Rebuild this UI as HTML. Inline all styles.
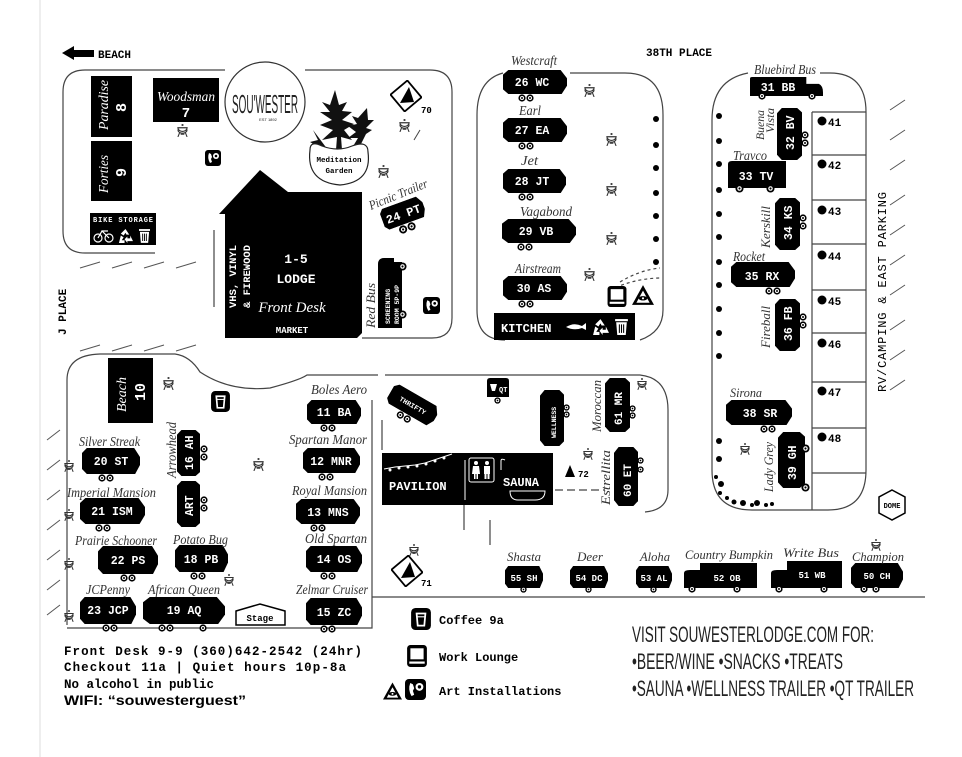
<!DOCTYPE html>
<html><head><meta charset="utf-8"><style>
html,body{margin:0;padding:0;background:#fff}
svg{display:block}
.m{font-family:"Liberation Mono",monospace;font-weight:bold}
.s{font-family:"Liberation Serif",serif;font-style:italic;fill:#333}
</style></head><body>
<svg width="962" height="757" viewBox="0 0 962 757" xmlns="http://www.w3.org/2000/svg">
<defs>
<symbol id="tr" viewBox="0 0 60 26" preserveAspectRatio="none"><polygon points="0,5 5,0 54,0 60,9 60,17 55,26 5,26 0,21" fill="#000"/></symbol>
<symbol id="tv" viewBox="0 0 26 60" preserveAspectRatio="none"><polygon points="5,0 21,0 26,5 26,55 21,60 5,60 0,54 0,6" fill="#000"/></symbol>
<symbol id="bus" viewBox="0 0 70 22" preserveAspectRatio="none"><path d="M0,2 Q0,0 2,0 H54 V8 H66 Q70,10 70,18 V22 H0 Z" fill="#000"/></symbol>
<symbol id="wh" viewBox="0 0 10 10"><circle cx="5" cy="5" r="4.5" fill="#000"/><circle cx="5" cy="5" r="2.5" fill="#fff"/><circle cx="5" cy="5" r="1.2" fill="#000"/></symbol>
<symbol id="bbq" viewBox="0 0 12 14"><rect x="5" y="0" width="2" height="2" fill="#333"/><path d="M1,4 H11 A5,4 0 0 1 1,4 Z" fill="none" stroke="#333" stroke-width="1.3"/><path d="M1,6 A5,4 0 0 0 11,6" fill="none" stroke="#333" stroke-width="1.3"/><path d="M3,9 L1,14 M9,9 L11,14 M4,11 H8" stroke="#333" stroke-width="1.2"/></symbol>
<symbol id="ph" viewBox="0 0 16 16"><rect width="16" height="16" rx="3" fill="#000"/><path d="M4,3 Q2,8 5,13 L7,12 L6,9 L7,7 L6,4 Z" fill="#fff"/><circle cx="11" cy="6" r="3" fill="#fff"/><circle cx="11" cy="6" r="1.3" fill="#000"/></symbol>
<symbol id="cup" viewBox="0 0 18 20"><rect width="18" height="20" rx="4" fill="#000"/><path d="M5,5 H13 L12,16 H6 Z" fill="none" stroke="#fff" stroke-width="1.6"/><line x1="5" y1="8" x2="13" y2="8" stroke="#fff"/></symbol>
<symbol id="pc" viewBox="0 0 18 20"><rect width="18" height="20" rx="3" fill="#000"/><rect x="3" y="3" width="12" height="10" fill="#fff"/><rect x="2" y="15" width="14" height="2" fill="#fff"/></symbol>
<symbol id="eye" viewBox="0 0 20 18"><polygon points="10,0 20,18 0,18" fill="#000"/><polygon points="10,5 16,16 4,16" fill="#fff"/><ellipse cx="10" cy="12" rx="4" ry="2" fill="#000"/><circle cx="10" cy="12" r="1" fill="#fff"/></symbol>
<symbol id="recy" viewBox="0 0 16 16"><path d="M8,1 L12,7 L9,7 L8,5 L6,8 L3,6 Z M13,8 L16,14 L10,14 L10,16 L7,12 L10,9 L10,11 L13,11 Z M3,8 L6,10 L4,13 L7,13 L7,16 L1,16 Z" fill="#fff"/></symbol>
<symbol id="trash" viewBox="0 0 12 16"><rect x="0" y="1" width="12" height="2" fill="#fff"/><path d="M1,4 H11 L10,16 H2 Z" fill="#fff"/><path d="M4,6 V14 M6,6 V14 M8,6 V14" stroke="#000"/></symbol>
<symbol id="tent" viewBox="-16 -16 32 32"><g transform="rotate(-40)"><rect x="-11" y="-11" width="22" height="22" fill="#fff" stroke="#000" stroke-width="1.8"/></g><polygon points="-6,7 3,-9 8,6" fill="#000"/></symbol>
</defs>

<line x1="40" y1="0" x2="40" y2="757" stroke="#ddd"/>

<polygon points="62,53 74,46 74,50 94,50 94,57 74,57 74,60" fill="#000"/>
<text x="98" y="58" class="m" font-size="11">BEACH</text>
<text x="646" y="56" class="m" font-size="11" font-weight="normal">38TH PLACE</text>
<text transform="translate(66,335) rotate(-90)" class="m" font-size="11" font-weight="normal">J PLACE</text>
<text transform="translate(886,392) rotate(-90)" font-family="Liberation Mono,monospace" font-size="12" textLength="200">RV/CAMPING &amp; EAST PARKING</text>
<g stroke="#555" stroke-width="1">
<path d="M80,268 L100,262 M112,268 L132,262 M144,268 L164,262 M176,268 L196,262 M80,351 L100,345 M112,351 L132,345 M144,351 L164,345 M176,351 L196,345"/>
<path d="M47,440 L60,430 M47,470 L60,460 M47,500 L60,490 M47,530 L60,520 M47,560 L60,550 M47,590 L60,580 M47,615 L60,605"/>
<path d="M890,110 L905,100 M890,140 L905,130 M890,170 L905,160 M890,205 L905,195 M890,235 L905,225 M890,265 L905,255 M890,295 L905,285 M890,330 L905,320 M890,360 L905,350 M890,390 L905,380"/>
</g>

<g fill="none" stroke="#444" stroke-width="1.2">
<path d="M155,253 H85 Q63,253 63,231 V92 Q63,70 85,70 H225 M305,70 H430 Q452,70 452,92 V318 Q452,338 432,338 H362"/>
<path d="M214,230 V307"/>
<path d="M503,73 Q477,80 477,115 V310 Q477,340 505,340 M570,73 H625 Q663,73 663,115 V310 Q663,332 640,340"/>
<path d="M748,73 Q712,80 712,120 V470 Q712,510 752,510 H828 Q866,510 866,470 V112 Q866,73 830,73 H820"/>
<path d="M812,112 V510 M812,112 H866 M812,155 H866 M812,200 H866 M812,244 H866 M812,290 H866 M812,333 H866 M812,382 H866 M812,428 H866 M812,473 H866"/>
<path d="M67,625 V380 Q67,355 100,354 H175 Q190,356 200,372 Q230,392 270,388 Q300,380 307,375 H378 M372,400 V628 H67"/>
<path d="M385,375 H640 Q668,378 668,410 V490 Q668,510 645,512"/>
<path d="M372,597 H925"/>
<path d="M382,420 V450 M464,505 V530 M490,520 V545"/>
<path d="M555,490 H605" stroke-dasharray="8 4"/>
<path d="M620,282 Q640,270 660,268 M610,290 Q635,278 662,278" stroke-dasharray="3 3"/>
</g>

<rect x="91" y="76" width="41" height="61" fill="#000"/>
<text transform="translate(108,130) rotate(-90)" class="s" font-size="14" style="fill:#fff" textLength="50" lengthAdjust="spacingAndGlyphs">Paradise</text>
<text transform="translate(126,112) rotate(-90)" class="m" font-size="15" fill="#fff">8</text>
<rect x="91" y="141" width="41" height="60" fill="#000"/>
<text transform="translate(108,193) rotate(-90)" class="s" font-size="14" style="fill:#fff" textLength="38" lengthAdjust="spacingAndGlyphs">Forties</text>
<text transform="translate(126,177) rotate(-90)" class="m" font-size="15" fill="#fff">9</text>
<rect x="90" y="213" width="66" height="32" fill="#000"/>
<text x="93" y="222" class="m" font-size="7" fill="#fff" textLength="60">BIKE STORAGE</text>
<g stroke="#fff" fill="none" stroke-width="1.2"><circle cx="98" cy="238" r="4"/><circle cx="109" cy="238" r="4"/><path d="M98,238 L102,231 L109,238 M102,231 H108"/></g>
<use href="#recy" x="118" y="228" width="15" height="15"/>
<use href="#trash" x="139" y="228" width="11" height="15"/>
<rect x="153" y="78" width="66" height="44" fill="#000"/>
<text x="186" y="101" class="s" font-size="14" style="fill:#fff" text-anchor="middle" textLength="58" lengthAdjust="spacingAndGlyphs">Woodsman</text>
<text x="186" y="117" class="m" font-size="14" fill="#fff" text-anchor="middle">7</text>
<circle cx="265" cy="102" r="40" fill="#fff" stroke="#333" stroke-width="1.2"/>
<text x="265" y="113" font-family="Liberation Sans,sans-serif" font-size="26" text-anchor="middle" textLength="66" lengthAdjust="spacingAndGlyphs" fill="#222">SOU'WESTER</text>
<text x="268" y="121" font-size="4" font-family="Liberation Sans,sans-serif" fill="#222" text-anchor="middle">EST 1892</text>
<use href="#bbq" x="177" y="124" width="11" height="13"/>
<use href="#ph" x="205" y="150" width="16" height="16"/>
<g fill="#111">
<path d="M335,90 L330,105 L322,102 L330,112 L320,112 L332,120 L320,125 L333,130 L322,140 L337,137 L336,150 L342,150 L341,137 L352,140 L344,130 L354,124 L342,120 L352,112 L342,111 L347,102 L339,105 Z"/>
<path d="M367,108 L358,118 L352,116 L357,124 L348,126 L356,132 L348,138 L358,138 L352,148 L360,146 L366,134 L372,130 L366,128 L374,120 L368,120 Z"/>
<path d="M313,130 L318,140 L310,142 L320,148 L328,150 Z"/>
</g>
<path d="M310,150 Q310,140 322,146 Q338,152 352,146 Q368,140 368,152 Q372,182 340,185 Q306,182 310,150 Z" fill="#fff" stroke="#222" stroke-width="1.2"/>
<text x="339" y="162" class="m" font-size="7.5" text-anchor="middle">Meditation</text>
<text x="339" y="173" class="m" font-size="7.5" text-anchor="middle">Garden</text>
<use href="#tent" x="390" y="80" width="32" height="32"/>
<text x="421" y="113" class="m" font-size="9">70</text>
<use href="#bbq" x="399" y="119" width="11" height="13"/>
<use href="#bbq" x="378" y="165" width="11" height="13"/>
<path d="M414,140 L420,130" stroke="#444"/>
<polygon points="219,214 260,170 288,192 362,192 362,333 357,338 225,338 225,214" fill="#000"/>
<text transform="translate(236,308) rotate(-90)" class="m" font-size="10.5" fill="#fff">VHS, VINYL</text>
<text transform="translate(250,308) rotate(-90)" class="m" font-size="10.5" fill="#fff">&amp; FIREWOOD</text>
<text x="296" y="263" class="m" font-size="13" fill="#fff" text-anchor="middle">1-5</text>
<text x="296" y="283" class="m" font-size="13" fill="#fff" text-anchor="middle">LODGE</text>
<text x="292" y="312" class="s" font-size="15" style="fill:#fff" text-anchor="middle">Front Desk</text>
<text x="292" y="333" class="m" font-size="9" fill="#fff" text-anchor="middle">MARKET</text>
<path d="M378,328 V264 Q378,258 384,258 H394 V262 H402 V328 Z" fill="#000"/>
<text transform="translate(390,324) rotate(-90)" class="m" font-size="6.5" fill="#fff">SCREENING</text>
<text transform="translate(399,324) rotate(-90)" class="m" font-size="6.5" fill="#fff">ROOM 5P-9P</text>
<use href="#wh" x="398" y="262" width="9" height="9"/><use href="#wh" x="398" y="310" width="9" height="9"/>
<text transform="translate(375,328) rotate(-90)" class="s" font-size="13" textLength="45" lengthAdjust="spacingAndGlyphs">Red Bus</text>
<use href="#ph" x="423" y="297" width="17" height="17"/>
<g transform="translate(403,213) rotate(-20)"><use href="#tr" x="-22" y="-11" width="44" height="22"/><text x="0" y="5" class="m" font-size="12" fill="#fff" text-anchor="middle">24 PT</text><use href="#wh" x="-10" y="11" width="9" height="9"/><use href="#wh" x="-1" y="11" width="9" height="9"/></g>
<text transform="translate(371,210) rotate(-22)" class="s" font-size="13" textLength="62" lengthAdjust="spacingAndGlyphs">Picnic Trailer</text>

<g class="m" font-size="11.5" fill="#fff">
<use href="#tr" x="503" y="70" width="64" height="24"/><text x="532" y="86" text-anchor="middle">26 WC</text>
<use href="#tr" x="503" y="118" width="64" height="24"/><text x="532" y="134" text-anchor="middle">27 EA</text>
<use href="#tr" x="503" y="169" width="63" height="24"/><text x="532" y="185" text-anchor="middle">28 JT</text>
<use href="#tr" x="502" y="219" width="74" height="24"/><text x="536" y="235" text-anchor="middle">29 VB</text>
<use href="#tr" x="503" y="276" width="64" height="24"/><text x="534" y="292" text-anchor="middle">30 AS</text>
</g>
<use href="#wh" x="518" y="94" width="8" height="8"/><use href="#wh" x="526" y="94" width="8" height="8"/>
<use href="#wh" x="518" y="142" width="8" height="8"/><use href="#wh" x="526" y="142" width="8" height="8"/>
<use href="#wh" x="518" y="193" width="8" height="8"/><use href="#wh" x="526" y="193" width="8" height="8"/>
<use href="#wh" x="517" y="243" width="8" height="8"/><use href="#wh" x="525" y="243" width="8" height="8"/>
<use href="#wh" x="518" y="300" width="8" height="8"/><use href="#wh" x="526" y="300" width="8" height="8"/>
<g class="s" font-size="14" lengthAdjust="spacingAndGlyphs">
<text x="511" y="65" textLength="46" lengthAdjust="spacingAndGlyphs">Westcraft</text><text x="519" y="115" textLength="22" lengthAdjust="spacingAndGlyphs">Earl</text><text x="521" y="165" textLength="17" lengthAdjust="spacingAndGlyphs">Jet</text><text x="520" y="216" textLength="52" lengthAdjust="spacingAndGlyphs">Vagabond</text><text x="515" y="273" textLength="46" lengthAdjust="spacingAndGlyphs">Airstream</text>
</g>
<g fill="#000"><circle cx="656" cy="119" r="3"/><circle cx="656" cy="145" r="3"/><circle cx="656" cy="168" r="3"/><circle cx="656" cy="193" r="3"/><circle cx="656" cy="216" r="3"/><circle cx="656" cy="239" r="3"/><circle cx="656" cy="262" r="3"/></g>
<use href="#bbq" x="584" y="84" width="11" height="13"/><use href="#bbq" x="606" y="133" width="11" height="13"/><use href="#bbq" x="606" y="183" width="11" height="13"/><use href="#bbq" x="606" y="232" width="11" height="13"/><use href="#bbq" x="584" y="268" width="11" height="13"/>
<use href="#pc" x="607" y="286" width="20" height="21"/><use href="#eye" x="632" y="283" width="22" height="24"/>
<rect x="494" y="313" width="141" height="27" fill="#000"/>
<text x="501" y="332" class="m" font-size="12" fill="#fff">KITCHEN</text>
<path d="M566,327 Q574,322 582,326 L586,323 L586,330 L582,328 Q574,331 566,327 Z" fill="#fff"/>
<use href="#recy" x="592" y="318" width="17" height="17"/><use href="#trash" x="615" y="318" width="13" height="17"/>

<use href="#bus" x="750" y="77" width="73" height="19"/>
<text x="778" y="91" class="m" font-size="11.5" fill="#fff" text-anchor="middle">31 BB</text>
<use href="#wh" x="758" y="92" width="8" height="8"/><use href="#wh" x="808" y="92" width="8" height="8"/>
<text x="754" y="74" class="s" font-size="14" textLength="62" lengthAdjust="spacingAndGlyphs">Bluebird Bus</text>
<use href="#tv" x="777" y="108" width="25" height="52"/><text transform="translate(794,150) rotate(-90)" class="m" font-size="11.5" fill="#fff">32 BV</text>
<use href="#wh" x="801" y="131" width="8" height="8"/><use href="#wh" x="801" y="139" width="8" height="8"/>
<text transform="translate(764,140) rotate(-90)" class="s" font-size="12" textLength="30" lengthAdjust="spacingAndGlyphs">Buena</text><text transform="translate(774,133) rotate(-90)" class="s" font-size="12" textLength="25" lengthAdjust="spacingAndGlyphs">Vista</text>
<path d="M728,164 Q728,161 732,161 H786 V188 H728 Z" fill="#000"/>
<text x="756" y="180" class="m" font-size="11.5" fill="#fff" text-anchor="middle">33 TV</text>
<use href="#wh" x="735" y="184" width="9" height="9"/><use href="#wh" x="766" y="184" width="9" height="9"/>
<text x="733" y="160" class="s" font-size="14" textLength="34" lengthAdjust="spacingAndGlyphs">Travco</text>
<use href="#tv" x="775" y="198" width="25" height="52"/><text transform="translate(792,240) rotate(-90)" class="m" font-size="11.5" fill="#fff">34 KS</text>
<use href="#wh" x="799" y="214" width="8" height="8"/><use href="#wh" x="799" y="222" width="8" height="8"/>
<text transform="translate(770,248) rotate(-90)" class="s" font-size="13" textLength="42" lengthAdjust="spacingAndGlyphs">Kerskill</text>
<use href="#tr" x="731" y="262" width="64" height="25"/><text x="762" y="280" class="m" font-size="11.5" fill="#fff" text-anchor="middle">35 RX</text>
<use href="#wh" x="765" y="287" width="8" height="8"/><use href="#wh" x="773" y="287" width="8" height="8"/>
<text x="733" y="261" class="s" font-size="14" textLength="32" lengthAdjust="spacingAndGlyphs">Rocket</text>
<use href="#tv" x="775" y="299" width="25" height="52"/><text transform="translate(792,341) rotate(-90)" class="m" font-size="11.5" fill="#fff">36 FB</text>
<use href="#wh" x="799" y="313" width="8" height="8"/><use href="#wh" x="799" y="321" width="8" height="8"/>
<text transform="translate(770,348) rotate(-90)" class="s" font-size="13" textLength="42" lengthAdjust="spacingAndGlyphs">Fireball</text>
<use href="#tr" x="726" y="400" width="66" height="25"/><text x="760" y="417" class="m" font-size="11.5" fill="#fff" text-anchor="middle">38 SR</text>
<use href="#wh" x="760" y="425" width="8" height="8"/><use href="#wh" x="768" y="425" width="8" height="8"/>
<text x="730" y="397" class="s" font-size="13" textLength="32" lengthAdjust="spacingAndGlyphs">Sirona</text>
<use href="#tv" x="778" y="432" width="27" height="56"/><text transform="translate(796,480) rotate(-90)" class="m" font-size="11.5" fill="#fff">39 GH</text>
<use href="#wh" x="801" y="444" width="9" height="9"/><use href="#wh" x="801" y="483" width="9" height="9"/>
<text transform="translate(773,492) rotate(-90)" class="s" font-size="13" textLength="50" lengthAdjust="spacingAndGlyphs">Lady Grey</text>
<use href="#bbq" x="740" y="443" width="10" height="12"/>
<g fill="#000"><circle cx="719" cy="116" r="3"/><circle cx="719" cy="141" r="3"/><circle cx="719" cy="164" r="3"/><circle cx="719" cy="190" r="3"/><circle cx="719" cy="214" r="3"/><circle cx="719" cy="237" r="3"/><circle cx="719" cy="262" r="3"/><circle cx="719" cy="285" r="3"/><circle cx="719" cy="309" r="3"/><circle cx="719" cy="333" r="3"/><circle cx="719" cy="356" r="3"/><circle cx="719" cy="441" r="3"/><circle cx="719" cy="459" r="3"/><circle cx="716" cy="477" r="2"/><circle cx="721" cy="484" r="3"/><circle cx="720" cy="493" r="2"/><circle cx="727" cy="498" r="2"/><circle cx="734" cy="502" r="2.5"/><circle cx="743" cy="503" r="3"/><circle cx="752" cy="505" r="2"/><circle cx="757" cy="503" r="3"/><circle cx="766" cy="505" r="2"/><circle cx="772" cy="504" r="2"/></g>
<g class="m" font-size="11">
<circle cx="822" cy="121" r="4.5"/><text x="828" y="126">41</text>
<circle cx="822" cy="164" r="4.5"/><text x="828" y="169">42</text>
<circle cx="822" cy="210" r="4.5"/><text x="828" y="215">43</text>
<circle cx="822" cy="255" r="4.5"/><text x="828" y="260">44</text>
<circle cx="822" cy="300" r="4.5"/><text x="828" y="305">45</text>
<circle cx="822" cy="343" r="4.5"/><text x="828" y="348">46</text>
<circle cx="822" cy="391" r="4.5"/><text x="828" y="396">47</text>
<circle cx="822" cy="437" r="4.5"/><text x="828" y="442">48</text>
</g>
<polygon points="892,490 905,497 905,513 892,520 879,513 879,497" fill="#fff" stroke="#000" stroke-width="1.5"/>
<text x="892" y="508" class="m" font-size="7" text-anchor="middle">DOME</text>

<rect x="108" y="358" width="45" height="65" fill="#000"/>
<text transform="translate(126,412) rotate(-90)" class="s" font-size="14" style="fill:#fff">Beach</text>
<text transform="translate(145,401) rotate(-90)" class="m" font-size="15" fill="#fff">10</text>
<use href="#cup" x="211" y="391" width="19" height="21"/>
<use href="#bbq" x="163" y="377" width="11" height="13"/>
<g class="m" font-size="11.5" fill="#fff">
<use href="#tr" x="82" y="448" width="58" height="26"/><text x="111" y="465" text-anchor="middle">20 ST</text>
<use href="#tr" x="80" y="498" width="65" height="26"/><text x="112" y="515" text-anchor="middle">21 ISM</text>
<use href="#tr" x="98" y="546" width="60" height="28"/><text x="128" y="564" text-anchor="middle">22 PS</text>
<use href="#tr" x="80" y="597" width="56" height="27"/><text x="108" y="614" text-anchor="middle">23 JCP</text>
<use href="#tr" x="143" y="597" width="82" height="27"/><text x="184" y="614" text-anchor="middle">19 AQ</text>
<use href="#tr" x="175" y="545" width="53" height="27"/><text x="201" y="563" text-anchor="middle">18 PB</text>
<use href="#tr" x="307" y="400" width="54" height="24"/><text x="334" y="416" text-anchor="middle">11 BA</text>
<use href="#tr" x="303" y="448" width="57" height="25"/><text x="331" y="465" text-anchor="middle">12 MNR</text>
<use href="#tr" x="296" y="499" width="64" height="25"/><text x="328" y="516" text-anchor="middle">13 MNS</text>
<use href="#tr" x="306" y="546" width="56" height="26"/><text x="334" y="563" text-anchor="middle">14 OS</text>
<use href="#tr" x="306" y="598" width="56" height="27"/><text x="334" y="616" text-anchor="middle">15 ZC</text>
<use href="#tv" x="177" y="430" width="23" height="46"/><text transform="translate(193,470) rotate(-90)">16 AH</text>
<use href="#tv" x="177" y="481" width="23" height="46"/><text transform="translate(193,516) rotate(-90)">ART</text>
</g>
<use href="#wh" x="98" y="474" width="8" height="8"/><use href="#wh" x="106" y="474" width="8" height="8"/>
<use href="#wh" x="95" y="524" width="8" height="8"/><use href="#wh" x="103" y="524" width="8" height="8"/>
<use href="#wh" x="120" y="574" width="8" height="8"/><use href="#wh" x="128" y="574" width="8" height="8"/>
<use href="#wh" x="102" y="624" width="8" height="8"/><use href="#wh" x="110" y="624" width="8" height="8"/>
<use href="#wh" x="158" y="624" width="8" height="8"/><use href="#wh" x="166" y="624" width="8" height="8"/><use href="#wh" x="199" y="624" width="8" height="8"/>
<use href="#wh" x="190" y="572" width="8" height="8"/><use href="#wh" x="198" y="572" width="8" height="8"/>
<use href="#wh" x="320" y="424" width="8" height="8"/><use href="#wh" x="328" y="424" width="8" height="8"/>
<use href="#wh" x="318" y="473" width="8" height="8"/><use href="#wh" x="326" y="473" width="8" height="8"/>
<use href="#wh" x="310" y="524" width="8" height="8"/><use href="#wh" x="318" y="524" width="8" height="8"/>
<use href="#wh" x="320" y="572" width="8" height="8"/><use href="#wh" x="328" y="572" width="8" height="8"/>
<use href="#wh" x="320" y="625" width="8" height="8"/><use href="#wh" x="328" y="625" width="8" height="8"/>
<use href="#wh" x="200" y="445" width="8" height="8"/><use href="#wh" x="200" y="453" width="8" height="8"/>
<use href="#wh" x="200" y="496" width="8" height="8"/><use href="#wh" x="200" y="504" width="8" height="8"/>
<g class="s" font-size="14">
<text x="79" y="446" textLength="61" lengthAdjust="spacingAndGlyphs">Silver Streak</text>
<text x="67" y="497" textLength="89" lengthAdjust="spacingAndGlyphs">Imperial Mansion</text>
<text x="75" y="545" textLength="82" lengthAdjust="spacingAndGlyphs">Prairie Schooner</text>
<text x="86" y="594" textLength="44" lengthAdjust="spacingAndGlyphs">JCPenny</text>
<text x="148" y="594" textLength="72" lengthAdjust="spacingAndGlyphs">African Queen</text>
<text x="173" y="544" textLength="55" lengthAdjust="spacingAndGlyphs">Potato Bug</text>
<text x="311" y="394" textLength="56" lengthAdjust="spacingAndGlyphs">Boles Aero</text>
<text x="289" y="444" textLength="78" lengthAdjust="spacingAndGlyphs">Spartan Manor</text>
<text x="292" y="495" textLength="75" lengthAdjust="spacingAndGlyphs">Royal Mansion</text>
<text x="305" y="543" textLength="62" lengthAdjust="spacingAndGlyphs">Old Spartan</text>
<text x="296" y="594" textLength="72" lengthAdjust="spacingAndGlyphs">Zelmar Cruiser</text>
<text transform="translate(176,478) rotate(-90)" textLength="56" lengthAdjust="spacingAndGlyphs">Arrowhead</text>
</g>
<path d="M236,611 L260,604 L285,611 V625 H236 Z" fill="#fff" stroke="#000" stroke-width="1.5"/>
<text x="260" y="621" class="m" font-size="9" text-anchor="middle">Stage</text>
<use href="#bbq" x="253" y="458" width="11" height="13"/>
<use href="#bbq" x="64" y="460" width="10" height="12"/><use href="#bbq" x="64" y="509" width="10" height="12"/><use href="#bbq" x="64" y="558" width="10" height="12"/><use href="#bbq" x="64" y="610" width="10" height="12"/>
<use href="#bbq" x="224" y="574" width="10" height="12"/>

<g transform="translate(413,405) rotate(30)"><use href="#tr" x="-26" y="-11" width="52" height="22"/><text x="0" y="3" class="m" font-size="7" fill="#fff" text-anchor="middle">THRIFTY</text><use href="#wh" x="-10" y="11" width="8" height="8"/><use href="#wh" x="-2" y="11" width="8" height="8"/></g>
<path d="M487,381 Q487,378 490,378 H506 Q509,378 509,381 V397 H487 Z" fill="#000"/>
<path d="M490,384 H497 L495,391 H492 Z" fill="#fff"/><text x="499" y="392" class="m" font-size="7" fill="#fff">QT</text>
<use href="#wh" x="494" y="397" width="7" height="7"/>
<use href="#tv" x="540" y="390" width="24" height="56"/><text transform="translate(556,438) rotate(-90)" class="m" font-size="6.5" fill="#fff">WELLNESS</text>
<use href="#wh" x="563" y="404" width="7" height="7"/><use href="#wh" x="563" y="411" width="7" height="7"/>
<use href="#tv" x="605" y="378" width="25" height="54"/><text transform="translate(622,425) rotate(-90)" class="m" font-size="11" fill="#fff">61 MR</text>
<use href="#wh" x="629" y="405" width="7" height="7"/><use href="#wh" x="629" y="412" width="7" height="7"/>
<text transform="translate(601,432) rotate(-90)" class="s" font-size="13" textLength="52" lengthAdjust="spacingAndGlyphs">Moroccan</text>
<use href="#bbq" x="637" y="378" width="10" height="12"/>
<use href="#tv" x="614" y="447" width="24" height="59"/><text transform="translate(631,497) rotate(-90)" class="m" font-size="11" fill="#fff">60 ET</text>
<use href="#wh" x="637" y="457" width="7" height="7"/><use href="#wh" x="637" y="466" width="7" height="7"/>
<text transform="translate(610,505) rotate(-90)" class="s" font-size="13" textLength="55" lengthAdjust="spacingAndGlyphs">Estrellita</text>
<use href="#bbq" x="583" y="448" width="10" height="12"/>
<rect x="382" y="453" width="171" height="52" fill="#000"/>
<polyline points="384,469 395,467 405,466 415,465 425,463 434,460 443,457 452,454" fill="none" stroke="#fff"/>
<g fill="#fff"><circle cx="390" cy="470" r="1.5"/><circle cx="399" cy="468" r="1.5"/><circle cx="408" cy="467" r="1.5"/><circle cx="417" cy="466" r="1.5"/><circle cx="426" cy="464" r="1.5"/><circle cx="435" cy="461" r="1.5"/><circle cx="444" cy="458" r="1.5"/></g>
<text x="389" y="490" class="m" font-size="12" fill="#fff">PAVILION</text>
<line x1="465" y1="460" x2="465" y2="500" stroke="#fff"/>
<rect x="469" y="458" width="25" height="24" rx="2" fill="none" stroke="#fff"/>
<g fill="#fff"><circle cx="476" cy="463" r="2"/><path d="M473,466 H479 L480,474 H472 Z M474,474 V479 H475.5 V474 M476.5,474 V479 H478 V474"/><circle cx="487" cy="463" r="2"/><rect x="484" y="466" width="6" height="8"/><rect x="484.5" y="474" width="2" height="5"/><rect x="487.5" y="474" width="2" height="5"/></g>
<path d="M501,470 V461 Q501,458 505,460" fill="none" stroke="#fff"/>
<text x="503" y="486" class="m" font-size="12" fill="#fff">SAUNA</text>
<path d="M510,491 H545 Q545,500 535,500 H518 Q510,500 510,491 Z" fill="none" stroke="#fff"/>
<polygon points="565,477 570,465 575,477" fill="#000"/><text x="578" y="477" class="m" font-size="9">72</text>
<use href="#tent" x="391" y="555" width="32" height="32"/>
<text x="421" y="586" class="m" font-size="9">71</text>
<use href="#bbq" x="409" y="544" width="10" height="12"/>

<g class="m" font-size="9" fill="#fff">
<use href="#tr" x="505" y="566" width="38" height="22"/><text x="524" y="581" text-anchor="middle">55 SH</text>
<use href="#tr" x="570" y="566" width="38" height="22"/><text x="589" y="581" text-anchor="middle">54 DC</text>
<use href="#tr" x="636" y="566" width="36" height="22"/><text x="654" y="581" text-anchor="middle">53 AL</text>
<path d="M684,588 V573 Q684,570 690,570 H700 V563 H757 V588 Z" fill="#000"/><text x="727" y="581" text-anchor="middle">52 OB</text>
<path d="M771,588 V573 Q771,570 777,570 H787 V561 H842 V588 Z" fill="#000"/><text x="812" y="578" text-anchor="middle">51 WB</text>
<use href="#tr" x="851" y="563" width="52" height="25"/><text x="877" y="579" text-anchor="middle">50 CH</text>
</g>
<use href="#wh" x="520" y="586" width="7" height="7"/><use href="#wh" x="585" y="586" width="7" height="7"/><use href="#wh" x="650" y="586" width="7" height="7"/>
<use href="#wh" x="688" y="585" width="8" height="8"/><use href="#wh" x="733" y="585" width="8" height="8"/>
<use href="#wh" x="775" y="585" width="8" height="8"/><use href="#wh" x="820" y="585" width="8" height="8"/>
<use href="#wh" x="860" y="585" width="8" height="8"/><use href="#wh" x="872" y="585" width="8" height="8"/>
<g class="s" font-size="13">
<text x="507" y="561" textLength="34" lengthAdjust="spacingAndGlyphs">Shasta</text><text x="577" y="561" textLength="26" lengthAdjust="spacingAndGlyphs">Deer</text><text x="640" y="561" textLength="30" lengthAdjust="spacingAndGlyphs">Aloha</text>
<text x="685" y="559" textLength="88" lengthAdjust="spacingAndGlyphs">Country Bumpkin</text><text x="783" y="557" textLength="56" lengthAdjust="spacingAndGlyphs">Write Bus</text><text x="852" y="561" textLength="52" lengthAdjust="spacingAndGlyphs">Champion</text>
</g>
<use href="#bbq" x="871" y="539" width="10" height="12"/>

<use href="#cup" x="411" y="608" width="20" height="22"/>
<text x="439" y="624" class="m" font-size="12">Coffee 9a</text>
<use href="#pc" x="407" y="645" width="20" height="22"/>
<text x="439" y="661" class="m" font-size="12">Work Lounge</text>
<use href="#eye" x="383" y="682" width="19" height="18"/><use href="#ph" x="405" y="679" width="21" height="21"/>
<text x="439" y="695" class="m" font-size="12">Art Installations</text>

<g class="m" font-size="12.5">
<text x="64" y="655" textLength="298">Front Desk 9-9 (360)642-2542 (24hr)</text>
<text x="64" y="671" textLength="282">Checkout 11a | Quiet hours 10p-8a</text>
<text x="64" y="688">No alcohol in public</text>
</g>
<text x="64" y="705" font-family="Liberation Sans,sans-serif" font-weight="bold" font-size="14" textLength="182" lengthAdjust="spacingAndGlyphs">WIFI: “souwesterguest”</text>
<g font-family="Liberation Sans,sans-serif" font-size="22" fill="#222">
<text x="632" y="642" textLength="242" lengthAdjust="spacingAndGlyphs">VISIT SOUWESTERLODGE.COM FOR:</text>
<text x="632" y="669" textLength="211" lengthAdjust="spacingAndGlyphs">•BEER/WINE •SNACKS •TREATS</text>
<text x="632" y="696" textLength="282" lengthAdjust="spacingAndGlyphs">•SAUNA •WELLNESS TRAILER •QT TRAILER</text>
</g>
</svg>
</body></html>
